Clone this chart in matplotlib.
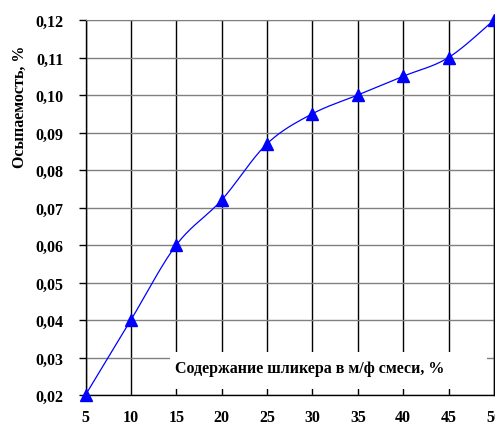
import numpy as np
import matplotlib
matplotlib.use("Agg")
import matplotlib.pyplot as plt
from matplotlib.patches import Rectangle

x_vals = [5, 10, 15, 20, 25, 30, 35, 40, 45, 50]
y_vals = [0.020, 0.040, 0.060, 0.072, 0.087, 0.095, 0.100, 0.105, 0.110, 0.120]
y_ticks = [0.02, 0.03, 0.04, 0.05, 0.06, 0.07, 0.08, 0.09, 0.10, 0.11, 0.12]
x_ticks = [5, 10, 15, 20, 25, 30, 35, 40, 45, 50]
x_label = "Содержание шликера в м/ф смеси, %"
y_label = "Осыпаемость, %"

plt.rcParams['font.family'] = ['Liberation Serif', 'DejaVu Serif']
plt.rcParams['font.weight'] = 'bold'

def smooth(xs, ys, n=20):
    # Excel-like smoothed line (Bezier with Catmull-Rom control points)
    xs = np.asarray(xs, float); ys = np.asarray(ys, float)
    px, py = [], []
    for i in range(len(xs) - 1):
        x0, y0 = (xs[i-1], ys[i-1]) if i > 0 else (xs[i], ys[i])
        x1, y1 = xs[i], ys[i]
        x2, y2 = xs[i+1], ys[i+1]
        x3, y3 = (xs[i+2], ys[i+2]) if i + 2 < len(xs) else (xs[i+1], ys[i+1])
        c1x, c1y = x1 + (x2 - x0) / 6, y1 + (y2 - y0) / 6
        c2x, c2y = x2 - (x3 - x1) / 6, y2 - (y3 - y1) / 6
        t = np.linspace(0, 1, n)
        bx = (1-t)**3*x1 + 3*(1-t)**2*t*c1x + 3*(1-t)*t**2*c2x + t**3*x2
        by = (1-t)**3*y1 + 3*(1-t)**2*t*c1y + 3*(1-t)*t**2*c2y + t**3*y2
        px.extend(bx); py.extend(by)
    return px, py

fig = plt.figure(figsize=(4.95, 4.27), dpi=100)
ax = fig.add_axes([85.5/495, 1-396/427, (494-85.5)/495, 375/427])

sx, sy = smooth(x_vals, y_vals)
ax.plot(sx, sy, color='#0000ff', lw=0.9, zorder=3, clip_on=False)
ax.plot(x_vals, y_vals, ls='none', marker='^', ms=9, color='#0000ff',
        zorder=4, clip_on=False)

ax.set_xlim(5, 50)
ax.set_ylim(0.02, 0.12)
ax.set_xticks(x_ticks)
ax.set_xticklabels([str(v) for v in x_ticks])
ax.set_yticks(y_ticks)
ax.set_yticklabels([f"{v:.2f}".replace('.', ',') for v in y_ticks])

for lab in ax.get_xticklabels() + ax.get_yticklabels():
    lab.set_fontweight('bold')
    lab.set_fontsize(11.5)

ax.tick_params(axis='x', length=0, pad=10)
ax.tick_params(axis='y', length=5, width=1, direction='out', pad=11, color='black')

ax.set_axisbelow(True)
ax.xaxis.grid(True, color='black', lw=1.0)
ax.yaxis.grid(True, color='#808080', lw=1.0)

for s in ['left', 'bottom', 'right']:
    ax.spines[s].set_color('black')
    ax.spines[s].set_linewidth(1.0)
ax.spines['top'].set_color('#808080')

ax.add_patch(Rectangle((0.207, 0.016), 0.776, 0.099, transform=ax.transAxes,
                       facecolor='white', edgecolor='none', zorder=1))
ax.text(0.219, 0.072, x_label, transform=ax.transAxes, ha='left', va='center',
        fontsize=11.5, fontweight='bold', zorder=2)

fig.text(20/495, 1-107/427, y_label, rotation=90, ha='center', va='center',
         fontsize=11.5, fontweight='bold')

fig.savefig("out.png", dpi=100, facecolor='white')
